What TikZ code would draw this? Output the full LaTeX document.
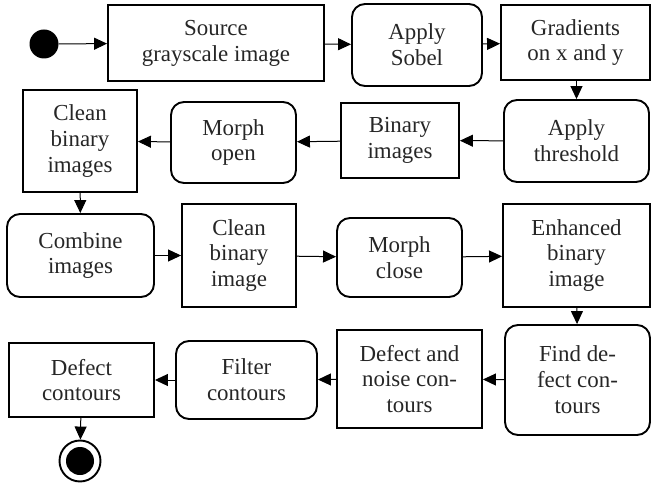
\documentclass[tikz,border=0pt]{standalone}
\usepackage{fontspec}
\setmainfont{Liberation Serif}
\newfontfamily\tms{Liberation Serif}
\usetikzlibrary{arrows.meta}
\begin{document}
\begin{tikzpicture}[x=1bp,y=-1bp,
  box/.style={draw, line width=1.9bp, align=center, inner sep=0pt,
    font=\tms\fontsize{23}{26}\selectfont, text=black!85},
  sq/.style={box},
  rnd/.style={box, rounded corners=13bp},
  arr/.style={line width=1bp, -{Triangle[length=13bp,width=12bp]}}]
\useasboundingbox (0,0) rectangle (653,484);
\node[circle, fill=black, minimum size=29bp, inner sep=0pt] (start) at (44,44) {};
\node[sq, minimum width=216bp, minimum height=76bp] (src) at (216,43) {Source\\grayscale image};
\node[rnd, minimum width=130bp, minimum height=82bp] (sobel) at (417,45) {Apply\\Sobel};
\node[sq, minimum width=149bp, minimum height=75bp] (grad) at (575.5,42.5) {Gradients\\on x and y};
\node[rnd, minimum width=145bp, minimum height=82bp] (thr) at (576.5,141) {Apply\\threshold};
\node[sq, minimum width=118bp, minimum height=75bp] (bin) at (400,140.5) {Binary\\images};
\node[rnd, minimum width=125bp, minimum height=81bp] (mopen) at (233.5,142.5) {Morph\\open};
\node[sq, minimum width=114bp, minimum height=102bp] (cbi) at (80,141) {Clean\\binary\\images};
\node[rnd, minimum width=147bp, minimum height=83bp] (comb) at (80.5,255.5) {Combine\\images};
\node[sq, minimum width=114bp, minimum height=103bp] (cbi2) at (239,255.5) {Clean\\binary\\image};
\node[rnd, minimum width=125bp, minimum height=79bp] (mclose) at (399.5,257.5) {Morph\\close};
\node[sq, minimum width=147bp, minimum height=103bp] (enh) at (576.5,255.5) {Enhanced\\binary\\image};
\node[rnd, minimum width=145bp, minimum height=110bp] (find) at (577.5,380) {Find de-\\fect con-\\tours};
\node[sq, minimum width=145bp, minimum height=98bp] (noise) at (409.5,379) {Defect and\\noise con-\\tours};
\node[rnd, minimum width=141bp, minimum height=78bp] (filter) at (246.5,380) {Filter\\contours};
\node[sq, minimum width=145bp, minimum height=74bp] (dcont) at (81.5,380) {Defect\\contours};
\node[circle, draw, line width=1.9bp, minimum size=41bp, inner sep=0pt] (end) at (80,461) {};
\fill (end.center) circle (14bp);
\draw[arr] (start) -- (src);
\draw[arr] (src) -- (sobel);
\draw[arr] (sobel) -- (grad);
\draw[arr] (grad.south -| thr.north) -- (thr.north);
\draw[arr] (thr) -- (bin);
\draw[arr] (bin) -- (mopen);
\draw[arr] (mopen) -- (cbi);
\draw[arr] (cbi) -- (comb);
\draw[arr] (comb) -- (cbi2);
\draw[arr] (cbi2) -- (mclose);
\draw[arr] (mclose) -- (enh);
\draw[arr] (enh) -- (find);
\draw[arr] (find) -- (noise);
\draw[arr] (noise) -- (filter);
\draw[arr] (filter) -- (dcont);
\draw[arr] (dcont) -- (end);
\end{tikzpicture}
\end{document}
